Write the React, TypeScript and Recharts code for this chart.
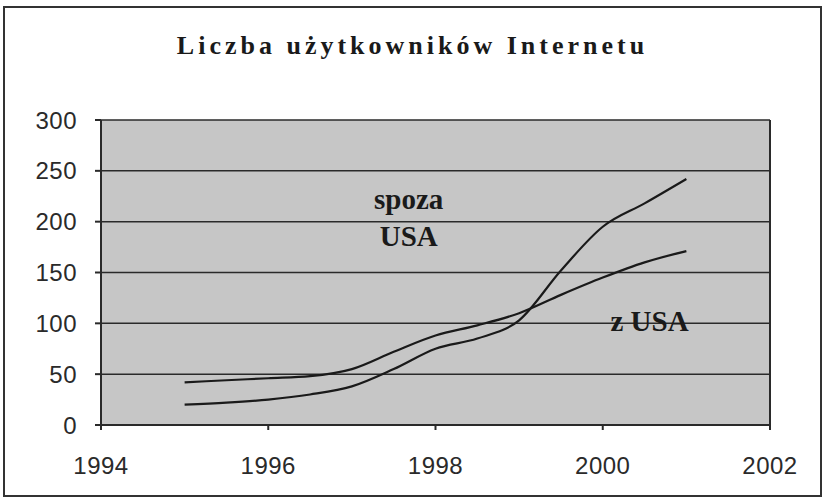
import React from 'react';
import { LineChart, Line, XAxis, YAxis, CartesianGrid, ReferenceDot, ReferenceLine } from 'recharts';

// half-year readings, millions of users
const years = [1995, 1995.5, 1996, 1996.5, 1997, 1997.5, 1998, 1998.5, 1999, 1999.5, 2000, 2000.5, 2001];
const spozaUsa = [20, 22, 25, 30, 38, 55, 75, 85, 103, 152, 195, 218, 242];
const zUsa = [42, 44, 46, 48, 55, 72, 88, 98, 110, 128, 145, 160, 171];

const xTicks = [1994, 1996, 1998, 2000, 2002];
const yTicks = [0, 50, 100, 150, 200, 250, 300];

const data = years.map((year, i) => ({ year, spoza: spozaUsa[i], zusa: zUsa[i] }));

const tickStyle = { fontFamily: 'Liberation Sans, Arial, sans-serif', fontSize: 24, fill: '#2a2a2a', letterSpacing: 0.5 };
const labelStyle = { fontFamily: 'Liberation Serif, Times New Roman, serif', fontSize: 29, fontWeight: 700, fill: '#1a1a1a' };

const App: React.FC = () => {
  return (
    <div style={{ position: 'absolute', left: 0, top: 0, width: 825, height: 498, background: '#fff', overflow: 'hidden' }}>
      <div
        style={{
          position: 'absolute',
          left: 0,
          width: 825,
          top: 31,
          textAlign: 'center',
          fontFamily: 'Liberation Serif, Times New Roman, serif',
          fontWeight: 700,
          fontSize: 26,
          letterSpacing: 4,
          color: '#1a1a1a',
        }}
      >
        Liczba użytkowników Internetu
      </div>
      <div style={{ position: 'absolute', left: 0, top: 0 }}>
        <LineChart width={825} height={498} data={data} margin={{ top: 120, right: 55, bottom: 33, left: 0 }}>
          <CartesianGrid
            vertical={false}
            stroke="#2a2a2a"
            strokeWidth={1.5}
            fill="#c6c6c6"
            fillOpacity={1}
            horizontalValues={yTicks}
          />
          <XAxis
            dataKey="year"
            type="number"
            domain={[1994, 2002]}
            ticks={xTicks}
            height={40}
            tickSize={5}
            tickMargin={27}
            tick={tickStyle}
            stroke="#2a2a2a"
            strokeWidth={2}
          />
          <YAxis
            type="number"
            domain={[0, 300]}
            ticks={yTicks}
            width={101}
            tickSize={6}
            tickMargin={18}
            tick={tickStyle}
            stroke="#2a2a2a"
            strokeWidth={2}
          />
          <ReferenceLine x={2002} stroke="#2a2a2a" strokeWidth={2} />
          <Line type="monotone" dataKey="spoza" stroke="#1a1a1a" strokeWidth={2.2} dot={false} isAnimationActive={false} />
          <Line type="monotone" dataKey="zusa" stroke="#1a1a1a" strokeWidth={2.2} dot={false} isAnimationActive={false} />
          <ReferenceDot x={1997.68} y={223} r={0} stroke="none" label={{ value: 'spoza', position: 'center', style: labelStyle }} />
          <ReferenceDot x={1997.68} y={186} r={0} stroke="none" label={{ value: 'USA', position: 'center', style: labelStyle }} />
          <ReferenceDot x={2000.56} y={103} r={0} stroke="none" label={{ value: 'z USA', position: 'center', style: labelStyle }} />
        </LineChart>
      </div>
      <svg width={825} height={498} style={{ position: 'absolute', left: 0, top: 0, zIndex: 10, pointerEvents: 'none' }}>
        <rect x={4} y={7} width={817} height={489} fill="none" stroke="#333" strokeWidth={2} />
      </svg>
    </div>
  );
};

export default App;
